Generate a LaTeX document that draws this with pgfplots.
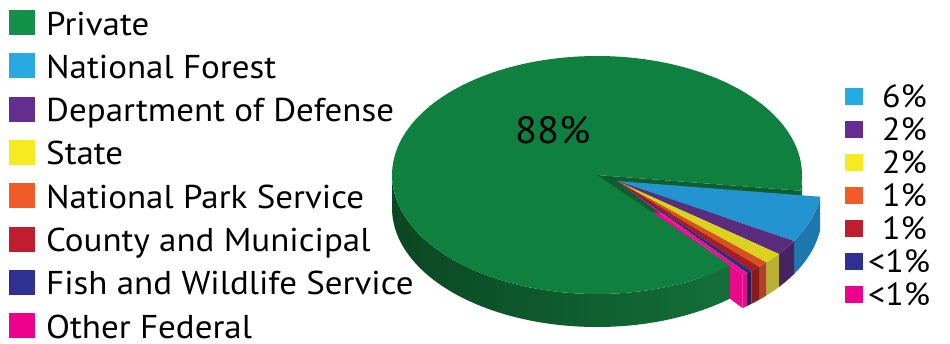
\documentclass[border=0pt]{standalone}
\usepackage{pgfplots}
\pgfplotsset{compat=1.18}
\usepackage{fontspec}
\setmainfont{PT Sans}[FakeStretch=1.06]

% legend colours
\definecolor{lgGreen}{HTML}{13914A}
\definecolor{lgBlue}{HTML}{27AAE1}
\definecolor{lgPurple}{HTML}{662D91}
\definecolor{lgYellow}{HTML}{F6EB20}
\definecolor{lgOrange}{HTML}{F15A29}
\definecolor{lgRed}{HTML}{BE1E2D}
\definecolor{lgNavy}{HTML}{2E3192}
\definecolor{lgPink}{HTML}{EC008C}
% pie colours (top / side)
\definecolor{gTop}{HTML}{108040}
\definecolor{gSideL}{HTML}{0B4723}
\definecolor{gSideR}{HTML}{137038}
\definecolor{gCut}{HTML}{0E5E2F}
\definecolor{bTop}{HTML}{2494D1}
\definecolor{bSide}{HTML}{1C78AE}
\definecolor{pTop}{HTML}{5B2B7E}
\definecolor{pSide}{HTML}{462462}
\definecolor{yTop}{HTML}{DAD21E}
\definecolor{ySide}{HTML}{BCB032}
\definecolor{oTop}{HTML}{D5521F}
\definecolor{oSide}{HTML}{AE4522}
\definecolor{rTop}{HTML}{A81C23}
\definecolor{rSide}{HTML}{8C191E}
\definecolor{nTop}{HTML}{2A2E82}
\definecolor{nSide}{HTML}{1E2152}
\definecolor{kTop}{HTML}{EA128C}
\definecolor{kSide}{HTML}{E80A8A}

% shares (percent)
\def\pPriv{88.4}
\def\pNF{6.3}
\def\pDoD{2.1}
\def\pState{1.5}
\def\pNPS{0.8}
\def\pCnty{0.8}
\def\pFWS{0.45}
\def\pOth{0.45}

% geometry of the pie (in px of the 950x343 picture)
\def\rx{205}
\def\ry{119}
\def\Hh{33}
\def\gx{597}\def\gy{175}   % centre of the Private slice
\def\sx{617}\def\sy{181}   % centre of the exploded slices

\pgfmathsetmacro\aA{-7.6}
\pgfmathsetmacro\aB{\aA-3.6*\pNF}
\pgfmathsetmacro\aC{\aB-3.6*\pDoD}
\pgfmathsetmacro\aD{\aC-3.6*\pState}
\pgfmathsetmacro\aE{\aD-3.6*\pNPS}
\pgfmathsetmacro\aF{\aE-3.6*\pCnty}
\pgfmathsetmacro\aG{\aF-3.6*\pFWS}
\pgfmathsetmacro\aH{\aG-3.6*\pOth}
\pgfmathsetmacro\aP{\aA+3.6*\pPriv}

% side band of a slice between angles #3 and #4
\newcommand\pieSide[6]{%
  \addplot[#5, draw=none, domain=0:3, samples=#6, variable=\t]
    ({#1+\rx*cos(angS(\t,#3,#4))},{#2-\ry*sin(angS(\t,#3,#4))+dzS(\t)}) -- cycle;}
% top of a slice
\newcommand\pieTop[6]{%
  \addplot[fill=#5, draw=none, domain=#3:#4, samples=#6, variable=\t]
    ({#1+\rx*cos(\t)},{#2-\ry*sin(\t)}) -- (axis cs:#1,#2) -- cycle;}
% radial cut face at angle #3
\newcommand\pieCut[4]{%
  \addplot[fill=#4, draw=none, domain=0:1, samples=2, variable=\t]
    ({#1+\t*\rx*cos(#3)},{#2-\t*\ry*sin(#3)})
    -- (axis cs:{#1+\rx*cos(#3)},{#2-\ry*sin(#3)+\Hh})
    -- (axis cs:#1,{#2+\Hh}) -- cycle;}

\newcommand\lgL[3]{\node[anchor=base west, inner sep=0pt, font=\fontsize{33bp}{40bp}\selectfont]
  at (axis cs:9,#1) {\textcolor{#2}{\rule{26bp}{25bp}}\hspace{11bp}#3};}
\newcommand\lgR[4]{\node[anchor=base west, inner sep=0pt, font=\fontsize{32bp}{38bp}\selectfont]
  at (axis cs:845,#1) {\textcolor{#2}{\rule[2bp]{18bp}{17bp}}\hspace{#3}#4};}

\begin{document}
\begin{tikzpicture}
\begin{axis}[
  scale only axis, width=950bp, height=343bp,
  xmin=0, xmax=950, ymin=0, ymax=343, y dir=reverse,
  hide axis, clip=false,
  declare function={
    angS(\t,\a,\b)=(\t<=1) ? (\a+(\b-\a)*\t) : ((\t<=2) ? \b : (\b-(\b-\a)*(\t-2)));
    dzS(\t)=(\t<=1) ? 0 : ((\t<=2) ? \Hh*(\t-1) : \Hh);
  },
]
% exploded group: its visible radial face
\pieCut{\sx}{\sy}{\aH}{kSide}
% Private slice
\pieSide{\gx}{\gy}{180}{\aP}{left color=gSideL, right color=gSideR}{241}
\pieSide{\gx}{\gy}{\aA}{0}{fill=gSideR}{31}
\pieCut{\gx}{\gy}{\aA}{gCut}
\pieTop{\gx}{\gy}{\aA}{\aP}{gTop}{160}
% exploded slices: sides
\pieSide{\sx}{\sy}{\aB}{\aA}{fill=bSide}{61}
\pieSide{\sx}{\sy}{\aC}{\aB}{fill=pSide}{31}
\pieSide{\sx}{\sy}{\aD}{\aC}{fill=ySide}{31}
\pieSide{\sx}{\sy}{\aE}{\aD}{fill=oSide}{31}
\pieSide{\sx}{\sy}{\aF}{\aE}{fill=rSide}{31}
\pieSide{\sx}{\sy}{\aG}{\aF}{fill=nSide}{31}
\pieSide{\sx}{\sy}{\aH}{\aG}{fill=kSide}{31}
% exploded slices: tops
\pieTop{\sx}{\sy}{\aB}{\aA}{bTop}{20}
\pieTop{\sx}{\sy}{\aC}{\aB}{pTop}{8}
\pieTop{\sx}{\sy}{\aD}{\aC}{yTop}{8}
\pieTop{\sx}{\sy}{\aE}{\aD}{oTop}{6}
\pieTop{\sx}{\sy}{\aF}{\aE}{rTop}{6}
\pieTop{\sx}{\sy}{\aG}{\aF}{nTop}{5}
\pieTop{\sx}{\sy}{\aH}{\aG}{kTop}{5}

\node[anchor=base west, inner sep=0pt, font=\fontsize{38bp}{44bp}\selectfont] at (axis cs:515,143) {88\%};

\lgL{35}{lgGreen}{Private}
\lgL{78.3}{lgBlue}{National Forest}
\lgL{121.6}{lgPurple}{Department of Defense}
\lgL{164.9}{lgYellow}{State}
\lgL{208.2}{lgOrange}{National Park Service}
\lgL{251.5}{lgRed}{County and Municipal}
\lgL{294.8}{lgNavy}{Fish and Wildlife Service}
\lgL{338.1}{lgPink}{Other Federal}

\lgR{107}{lgBlue}{19bp}{6\%}
\lgR{140}{lgPurple}{19bp}{2\%}
\lgR{173}{lgYellow}{19bp}{2\%}
\lgR{206}{lgOrange}{19bp}{1\%}
\lgR{239}{lgRed}{19bp}{1\%}
\lgR{272}{lgNavy}{5bp}{<1\%}
\lgR{305}{lgPink}{5bp}{<1\%}
\end{axis}
\pgfresetboundingbox
\path (current axis.south west) rectangle (current axis.north east);
\end{tikzpicture}
\end{document}
